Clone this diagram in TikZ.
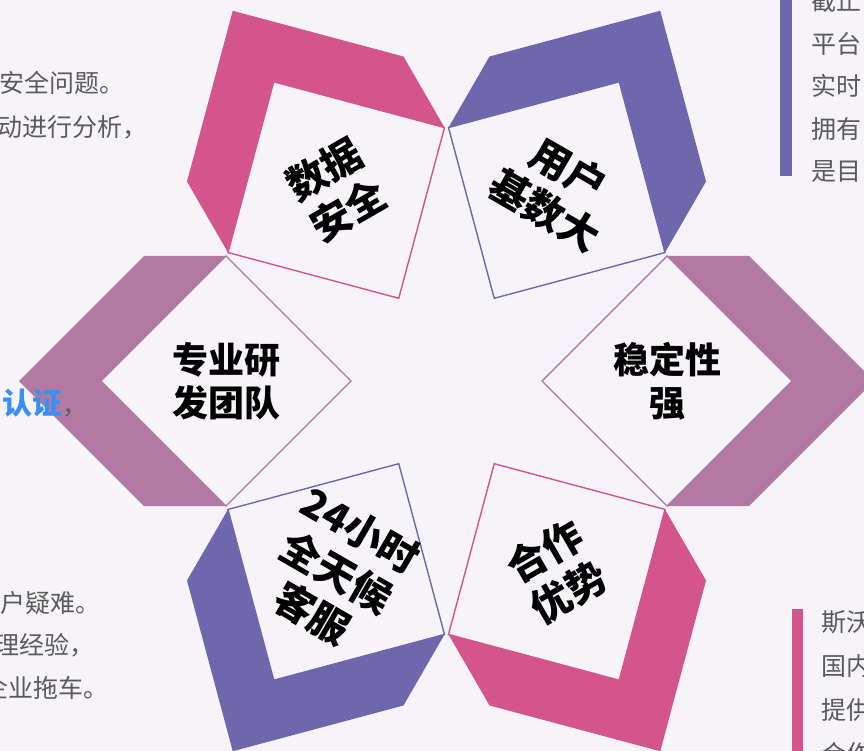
\documentclass[tikz,border=0pt]{standalone}
\usepackage{fontspec}
\setmainfont{Noto Sans CJK SC}
\definecolor{bgc}{HTML}{F6F4F8}
\definecolor{pinkc}{HTML}{D4558B}
\definecolor{purc}{HTML}{6F67AD}
\definecolor{mauc}{HTML}{B27AA3}
\definecolor{grayt}{HTML}{5B5B5B}
\definecolor{bluet}{HTML}{3A8FF2}
\tikzset{
  sqbox/.style={draw=#1, fill=bgc, line width=1.4pt, line join=miter},
  lab/.style={font=\bfseries\fontsize{36}{43}\selectfont, align=center, text=black, inner sep=0pt},
  rlab/.style={font=\bfseries\fontsize{40}{48}\selectfont, align=center, text=black, inner sep=0pt},
  sidetext/.style={font=\fontsize{25}{30}\selectfont, text=grayt, anchor=base west, inner sep=0pt},
}
\newcommand\hexunit[2]{%
  \begin{scope}[rotate around={#1:(446.5,381)}]
    \fill[#2] (144,256) -- (226,256) -- (101,381) -- (226,506) -- (144,506) -- (19,381) -- cycle;
    \draw[sqbox=#2] (226,256) -- (351,381) -- (226,506) -- (101,381) -- cycle;
  \end{scope}}
\begin{document}
\begin{tikzpicture}[x=1pt,y=-1pt]
\useasboundingbox (0,0) rectangle (864,751);
\clip (0,0) rectangle (864,751);
\fill[bgc] (0,0) rectangle (864,751);
% six units
\hexunit{0}{mauc}
\hexunit{180}{mauc}
\hexunit{-60}{pinkc}
\hexunit{-120}{purc}
\hexunit{60}{purc}
\hexunit{120}{pinkc}
% labels
\node[lab] (zy) at (226,381) {专业研\\发团队};
\node[lab] (wd) at (667,381) {稳定性\\强};
\node[rlab, rotate=30] (sj) at (336.25,190) {数据\\安全};
\node[rlab, rotate=-30] (yh) at (556.75,190) {用户\\基数大};
\node[rlab, rotate=-30] (kf) at (336.25,572) {24小时\\全天候\\客服};
\node[rlab, rotate=30] (hz) at (556.75,572) {合作\\优势};
% left side texts
\node[sidetext] (l1) at (-1,92.5) {安全问题。};
\node[sidetext] (l2) at (-3,136.5) {动进行分析，};
\node[sidetext] (l3) at (2,414) {{\color{bluet}\bfseries\fontsize{30}{36}\selectfont 认证}，};
\node[sidetext] (l4) at (0,612) {户疑难。};
\node[sidetext] (l5) at (-6,654.5) {理经验，};
\node[sidetext] (l6) at (-17,697) {企业拖车。};
% right side bars and texts
\fill[purc] (780,0) rectangle (792,176);
\fill[pinkc] (792,609) rectangle (803,751);
\node[sidetext] (r1) at (811,11) {截止};
\node[sidetext] (r2) at (811,53.5) {平台};
\node[sidetext] (r3) at (811,96) {实时};
\node[sidetext] (r4) at (811,138.5) {拥有};
\node[sidetext] (r5) at (811,181) {是目};
\node[sidetext] (s1) at (821,631.5) {斯沃};
\node[sidetext] (s2) at (821,675.5) {国内};
\node[sidetext] (s3) at (821,719.5) {提供};
\node[sidetext] (s4) at (821,763.5) {合作};
\end{tikzpicture}
\end{document}
